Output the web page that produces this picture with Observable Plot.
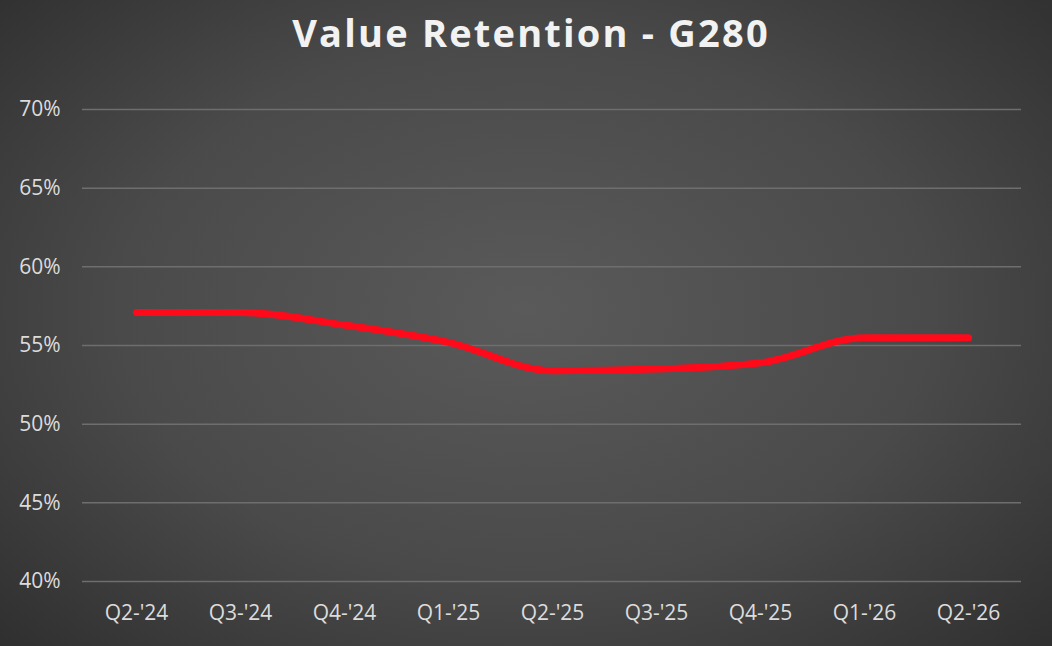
<!DOCTYPE html>
<html>
<head>
<meta charset="utf-8">
<script src="https://cdn.jsdelivr.net/npm/d3@7"></script>
<script src="https://cdn.jsdelivr.net/npm/@observablehq/plot@0.6"></script>
<style>
  html, body { margin: 0; padding: 0; }
  body { width: 1052px; height: 646px; overflow: hidden; }
  #wrap {
    width: 1052px; height: 646px; position: relative;
    background: radial-gradient(ellipse 70% 75% at 50% 48%, #5a5a5a 0%, #4a4a4a 55%, #2f2f2f 100%);
    font-family: "Open Sans", sans-serif;
  }
  #title {
    height: 70px; line-height: 64px; text-align: center; padding-left: 10px; box-sizing: border-box;
    color: #f2f2f2; font-weight: 700; font-size: 38px; letter-spacing: 2.2px;
  }
  #chart svg { display: block; background: transparent; }
  #chart svg g[aria-label="y-axis tick label"] text,
  #chart svg g[aria-label="x-axis tick label"] text { font-size: 21px; }
</style>
</head>
<body>
<div id="wrap">
  <div id="title">Value Retention - G280</div>
  <div id="chart"></div>
</div>
<script>
const quarters = ["Q2-'24", "Q3-'24", "Q4-'24", "Q1-'25", "Q2-'25", "Q3-'25", "Q4-'25", "Q1-'26", "Q2-'26"];
const retention = [0.571, 0.571, 0.563, 0.552, 0.534, 0.535, 0.539, 0.555, 0.555];
const yTicks = [0.40, 0.45, 0.50, 0.55, 0.60, 0.65, 0.70];

const data = quarters.map((q, i) => ({quarter: q, value: retention[i]}));

const chart = Plot.plot({
  width: 1052,
  height: 576,
  marginTop: 39,
  marginBottom: 65,
  marginLeft: 82,
  marginRight: 31,
  style: {background: "transparent", color: "#d9d9d9", fontFamily: "Open Sans, sans-serif", fontSize: "21px"},
  x: {type: "point", domain: quarters, padding: 0.5, label: null},
  y: {domain: [0.40, 0.70], label: null},
  marks: [
    Plot.ruleY(yTicks, {stroke: "#6e6e6e", strokeWidth: 1.5}),
    Plot.axisY({ticks: yTicks, tickFormat: d => Math.round(d * 100) + "%", tickSize: 0, tickPadding: 22, fill: "#dcdcdc", fontSize: 21, label: null}),
    Plot.axisX({tickSize: 0, tickPadding: 24, fill: "#dcdcdc", fontSize: 21, label: null}),
    Plot.line(data, {x: "quarter", y: "value", stroke: "#ff0a1a", strokeWidth: 7, curve: "monotone-x", strokeLinecap: "round", strokeLinejoin: "round"})
  ]
});
document.getElementById("chart").appendChild(chart);
</script>
</body>
</html>
